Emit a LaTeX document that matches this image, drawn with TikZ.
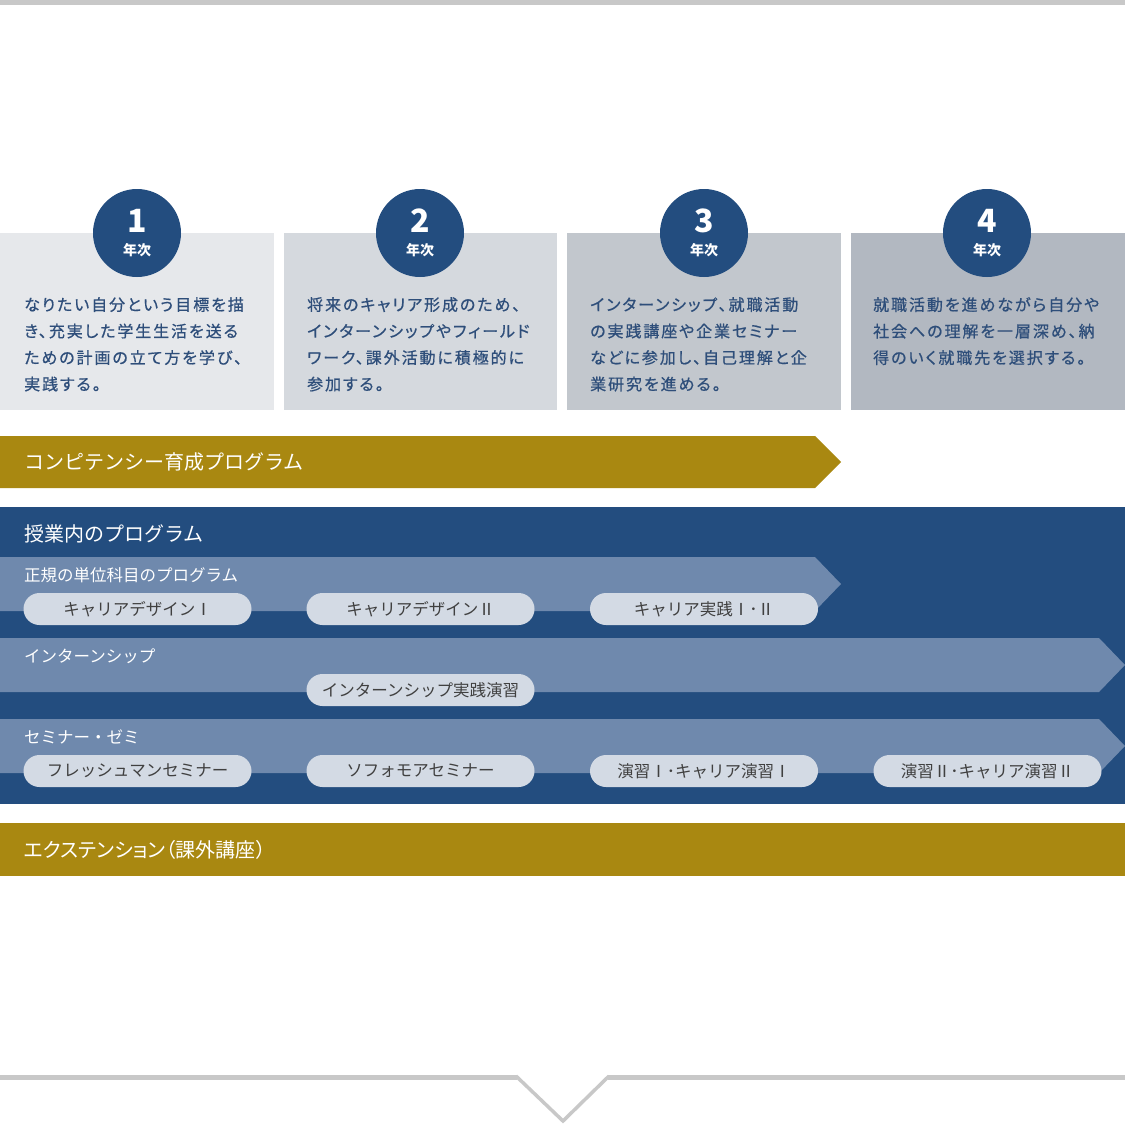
\documentclass[tikz,border=0pt]{standalone}
\usepackage{fontspec}
\newfontfamily\jp{Noto Sans CJK JP}
\newfontfamily\jppalt[RawFeature=+palt]{Noto Sans CJK JP}
\newfontfamily\jpmid[FakeBold=0.7,LetterSpace=12,RawFeature=+palt]{Noto Sans CJK JP}
\definecolor{navy}{HTML}{234D7F}
\definecolor{slate}{HTML}{6F89AD}
\definecolor{gold}{HTML}{A98811}
\definecolor{pill}{HTML}{D3DAE4}
\definecolor{paneltext}{HTML}{2E4E7A}
\definecolor{pilltext}{HTML}{404040}
\definecolor{rule}{HTML}{C8C8C8}
\definecolor{panelA}{HTML}{E6E8EB}
\definecolor{panelB}{HTML}{D5D9DE}
\definecolor{panelC}{HTML}{C2C7CD}
\definecolor{panelD}{HTML}{B2B8C1}
\tikzset{
  year circle/.style={circle, fill=navy, minimum size=88pt, inner sep=0pt},
  year num/.style={text=white, inner sep=0pt, font=\jp\bfseries\fontsize{32}{32}\selectfont},
  year word/.style={text=white, inner sep=0pt, font=\jp\bfseries\fontsize{14}{14}\selectfont},
  year text/.style={anchor=north west, inner sep=0pt, align=left, text=paneltext,
    font=\jpmid\fontsize{16}{26.5}\selectfont},
  band title/.style={anchor=west, inner sep=0pt, text=white, font=\jp\fontsize{20}{20}\selectfont},
  row title/.style={anchor=west, inner sep=0pt, text=white, font=\jp\fontsize{16.5}{16.5}\selectfont},
  course pill/.style={fill=pill, rounded corners=16pt, minimum width=228pt, minimum height=32pt,
    inner sep=0pt, text=pilltext, font=\jp\fontsize{16.5}{16.5}\selectfont},
}

\begin{document}
\begin{tikzpicture}[x=1pt, y=-1pt]
  \useasboundingbox (0,0) rectangle (1125,1125);

  % top and bottom rules
  \fill[rule] (0,0) rectangle (1125,5);
  \draw[rule, line width=5pt] (0,1077) -- (517,1077);
  \draw[rule, line width=5pt] (608,1077) -- (1125,1077);
  \draw[rule, line width=3.5pt, line join=miter] (516,1076) -- (563,1121) -- (609,1076);

  % year panels
  \fill[panelA] (0,233) rectangle (274,410);
  \fill[panelB] (284,233) rectangle (557,410);
  \fill[panelC] (567,233) rectangle (841,410);
  \fill[panelD] (851,233) rectangle (1125,410);

  \node[year circle] (y1) at (137,233) {};
  \node[year circle] (y2) at (420,233) {};
  \node[year circle] (y3) at (704,233) {};
  \node[year circle] (y4) at (987,233) {};
  \foreach \n in {1,2,3,4}{
    \node[year num] (num\n) at ([yshift=12pt]y\n.center) {\n};
    \node[year word] (word\n) at ([yshift=-17pt]y\n.center) {年次};
  }

  \node[year text] (t1) at (24,297) {なりたい自分という目標を描\\き、充実した学生生活を送る\\ための計画の立て方を学び、\\実践する。};
  \node[year text] (t2) at (307,297) {将来のキャリア形成のため、\\インターンシップやフィールド\\ワーク、課外活動に積極的に\\参加する。};
  \node[year text] (t3) at (590,297) {インターンシップ、就職活動\\の実践講座や企業セミナー\\などに参加し、自己理解と企\\業研究を進める。};
  \node[year text] (t4) at (873,297) {就職活動を進めながら自分や\\社会への理解を一層深め、納\\得のいく就職先を選択する。};

  % competency arrow
  \fill[gold] (0,436) -- (815,436) -- (841,462) -- (815,488) -- (0,488) -- cycle;
  \node[band title] (comp) at (24,462) {コンピテンシー育成プログラム};

  % in-class programs
  \fill[navy] (0,507) rectangle (1125,804);
  \node[band title] (inclass) at (24,534) {授業内のプログラム};

  \fill[slate] (0,557) -- (815,557) -- (841,584) -- (815,611) -- (0,611) -- cycle;
  \fill[slate] (0,638) -- (1099,638) -- (1125,665) -- (1099,692) -- (0,692) -- cycle;
  \fill[slate] (0,719) -- (1099,719) -- (1125,746) -- (1099,773) -- (0,773) -- cycle;

  \node[row title] (regular) at (24,575) {正規の単位科目のプログラム};
  \node[row title] (intern) at (24,656) {インターンシップ};
  \node[row title] (seminar) at (24,737) {セミナー・ゼミ};

  \node[course pill] (cd1) at (137.5,609) {キャリアデザインⅠ};
  \node[course pill] (cd2) at (420.5,609) {キャリアデザインⅡ};
  \node[course pill] (cp) at (704,609) {キャリア実践Ⅰ･Ⅱ};
  \node[course pill] (ip) at (420.5,690) {インターンシップ実践演習};
  \node[course pill] (fs) at (137.5,771) {フレッシュマンセミナー};
  \node[course pill] (ss) at (420.5,771) {ソフォモアセミナー};
  \node[course pill] (en1) at (704,771) {演習Ⅰ･キャリア演習Ⅰ};
  \node[course pill] (en2) at (987.5,771) {演習Ⅱ･キャリア演習Ⅱ};

  % extension
  \fill[gold] (0,823) rectangle (1125,876);
  \node[band title, font=\jppalt\fontsize{20}{20}\selectfont] (ext) at (24,850) {エクステンション（課外講座）};
\end{tikzpicture}
\end{document}
